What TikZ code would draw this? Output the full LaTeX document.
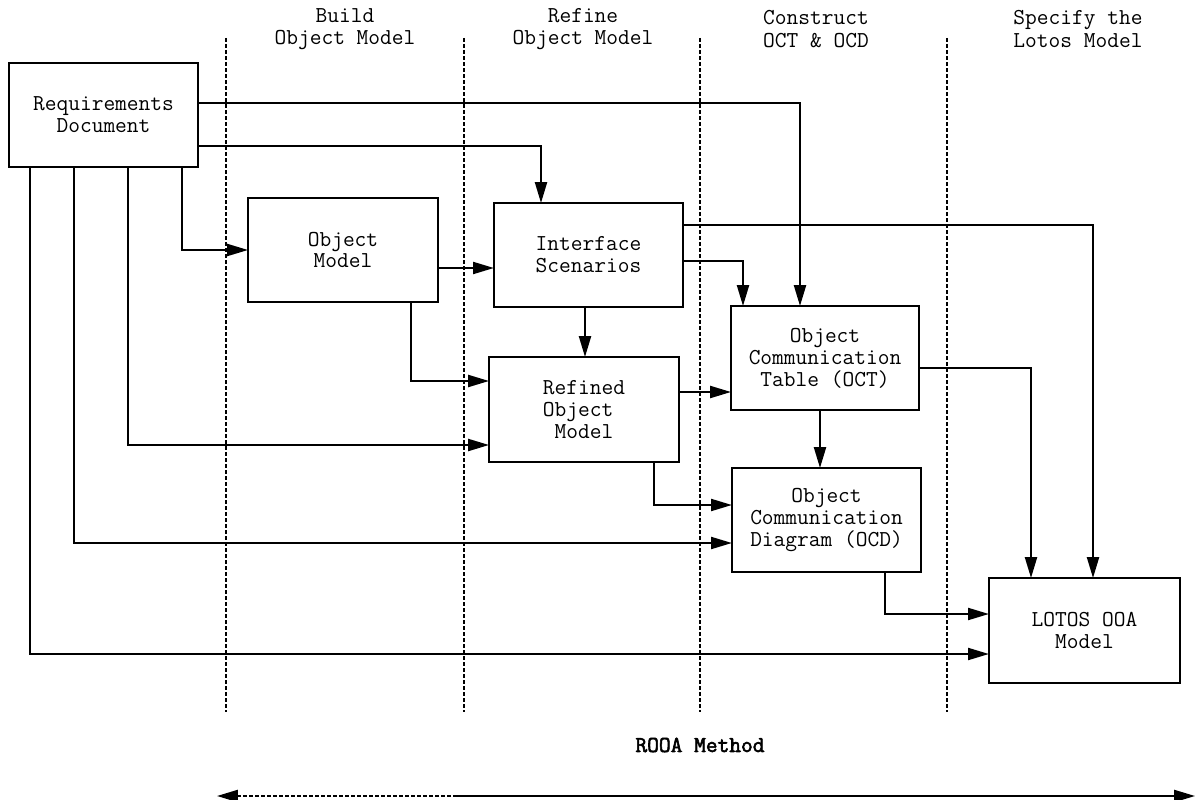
\documentclass[tikz,border=0pt]{standalone}
\usepackage{fontspec}
\newfontfamily\rooafont{Latin Modern Mono}[FakeBold=2.5]
\usetikzlibrary{arrows.meta}
\begin{document}
\begin{tikzpicture}[x=0.025cm,y=-0.025cm,
  box/.style={draw, line width=1.6pt, inner sep=0pt, outer sep=0pt, align=center,
    minimum width=4.73cm, minimum height=2.6cm, font=\ttfamily\fontsize{16.2}{15.6}\selectfont},
  hdr/.style={align=center, inner sep=0pt, font=\ttfamily\fontsize{16.2}{16}\selectfont},
  arr/.style={line width=1.4pt, -{Triangle[length=0.52cm,width=0.3cm]}},
  sep/.style={line width=1.9pt, dash pattern=on 0.09cm off 0.06cm},
]
\useasboundingbox (0,0) rectangle (1197,800);

% phase separators
\foreach \i/\x in {1/226,2/464,3/700,4/947}{
  \coordinate (t\i) at (\x,38);
  \coordinate (b\i) at (\x,712);
  \draw[sep] (t\i) -- (b\i);
}

% headers
\node[hdr] (h1) at (345,29) {Build\\Object Model};
\node[hdr] (h2) at (583,29) {Refine\\Object Model};
\node[hdr] (h3) at (816,29) {Construct\\OCT \& OCD};
\node[hdr] (h4) at (1078,29) {Specify the\\Lotos Model};

% boxes
\node[box] (req) at (103.5,115) {Requirements\\Document};
\node[box, minimum width=4.75cm] (om) at (343,250) {Object\\Model};
\node[box] (is) at (588.5,255) {Interface\\Scenarios};
\node[box, minimum width=4.7cm] (oct) at (825,358) {Object\\Communication\\Table (OCT)};
\node[box, minimum width=4.75cm, minimum height=2.625cm, align=left] (rom) at (584,409.5) {Refined\\Object\\\hphantom{R}Model};
\node[box] (ocd) at (826.5,520) {Object\\Communication\\Diagram (OCD)};
\node[box, minimum width=4.78cm, minimum height=2.625cm] (lotos) at (1084.5,630.5) {LOTOS OOA\\Model};

% connectors
\draw[arr] (req.east |- 0,103) -| (oct.north -| 800,0);
\draw[arr] (req.east |- 0,146) -| (is.north -| 541,0);
\draw[arr] (req.south -| 182,0) |- (om.west |- 0,250);
\draw[arr] (req.south -| 128,0) |- (rom.west |- 0,445);
\draw[arr] (req.south -| 74,0) |- (ocd.west |- 0,543);
\draw[arr] (req.south -| 30,0) |- (lotos.west |- 0,654);
\draw[arr] (om.east |- 0,268) -- (is.west |- 0,268);
\draw[arr] (om.south -| 411,0) |- (rom.west |- 0,381);
\draw[arr] (is.south -| 585,0) -- (rom.north -| 585,0);
\draw[arr] (is.east |- 0,225) -| (lotos.north -| 1093,0);
\draw[arr] (is.east |- 0,261) -| (oct.north -| 743,0);
\draw[arr] (rom.east |- 0,392) -- (oct.west |- 0,392);
\draw[arr] (rom.south -| 654,0) |- (ocd.west |- 0,505);
\draw[arr] (oct.south -| 820,0) -- (ocd.north -| 820,0);
\draw[arr] (oct.east |- 0,368) -| (lotos.north -| 1031,0);
\draw[arr] (ocd.south -| 885,0) |- (lotos.west |- 0,614);

% ROOA method span
\node[inner sep=0pt, font=\rooafont\fontsize{16.2}{16}\selectfont] (rooa) at (700,745) {ROOA Method};
\coordinate (ml) at (217,796);
\coordinate (mm) at (457,796);
\coordinate (mr) at (1195,796);
\draw[arr, dash pattern=on 0.09cm off 0.06cm] (mm) -- (ml);
\draw[arr] (mm) -- (mr);
\end{tikzpicture}
\end{document}
